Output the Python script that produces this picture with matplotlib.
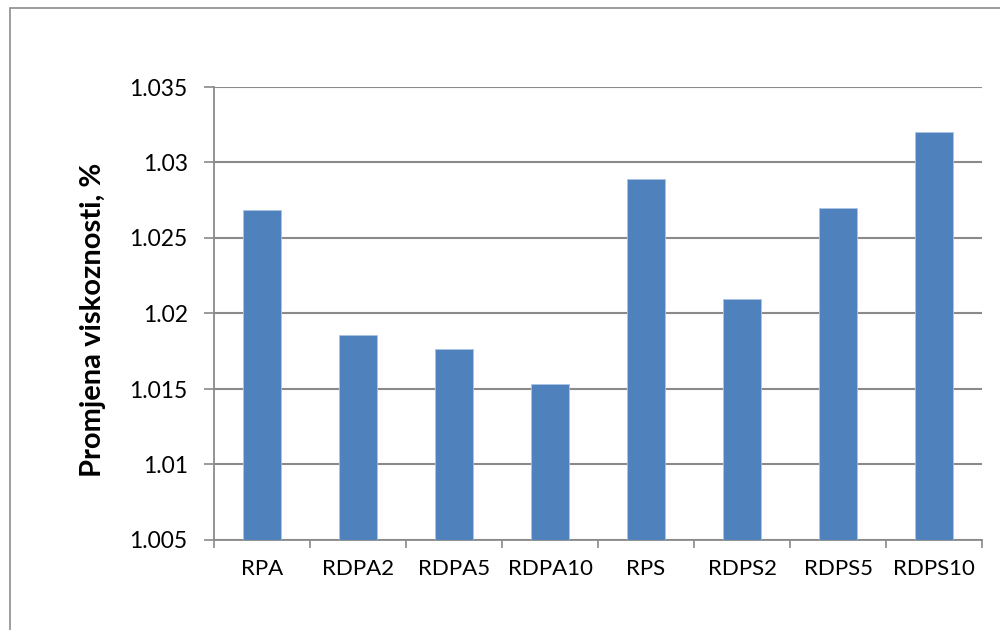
import matplotlib
matplotlib.use("Agg")
import matplotlib.pyplot as plt
from matplotlib.patches import Rectangle
import numpy as np

categories = ["RPA", "RDPA2", "RDPA5", "RDPA10", "RPS", "RDPS2", "RDPS5", "RDPS10"]
values = [1.02685, 1.01855, 1.01763, 1.01530, 1.02888, 1.02096, 1.02698, 1.03202]
yticks = [1.005, 1.01, 1.015, 1.02, 1.025, 1.03, 1.035]
ytick_labels = ["1.005", "1.01", "1.015", "1.02", "1.025", "1.03", "1.035"]
ylabel = "Promjena viskoznosti, %"

plt.rcParams['font.family'] = ['Lato', 'DejaVu Sans']

W, H = 1000, 630
fig = plt.figure(figsize=(W / 100, H / 100), dpi=100)
fig.patch.set_facecolor("white")

# outer chart frame
fig.add_artist(Rectangle((10 / W, -0.05), 1.1, 1 - 8 / H + 0.05, transform=fig.transFigure,
                         fill=False, edgecolor="#8c8c8c", linewidth=1.2))

left, right, top, bottom = 214, 982, 87, 540
ax = fig.add_axes([left / W, 1 - bottom / H, (right - left) / W, (bottom - top) / H])

x = np.arange(len(categories))
ax.bar(x, np.array(values) - 1.005, bottom=1.005, width=0.40, color="#4F81BD",
       edgecolor="#A9C4E6", linewidth=0.6, zorder=3)

ax.set_xlim(-0.5, len(categories) - 0.5)
ax.set_ylim(1.005, 1.035)
ax.set_yticks(yticks)
ax.set_yticklabels(ytick_labels)
ax.yaxis.grid(True, color="#8a8a8a", linewidth=1.5, zorder=0)
ax.set_axisbelow(True)

ax.set_xticks(x)
ax.set_xticklabels(categories)
ax.set_xticks(np.arange(-0.5, len(categories), 1.0), minor=True)
ax.tick_params(axis="x", which="major", length=0, pad=14, labelsize=16, colors="black")
ax.tick_params(axis="x", which="minor", length=6, width=1.2, color="#8a8a8a")
ax.tick_params(axis="y", which="major", length=7, width=1.2, color="#8a8a8a", labelsize=16.5, pad=12)

for s in ["top", "right"]:
    ax.spines[s].set_visible(False)
for s in ["left", "bottom"]:
    ax.spines[s].set_color("#8a8a8a")
    ax.spines[s].set_linewidth(1.3)

ax.set_ylabel(ylabel, fontsize=21, fontweight="bold")
ax.yaxis.set_label_coords(-(left - 106) / (right - left), (540 - (162 + 478) / 2) / (540 - 87))

fig.savefig("out.png", dpi=100)
